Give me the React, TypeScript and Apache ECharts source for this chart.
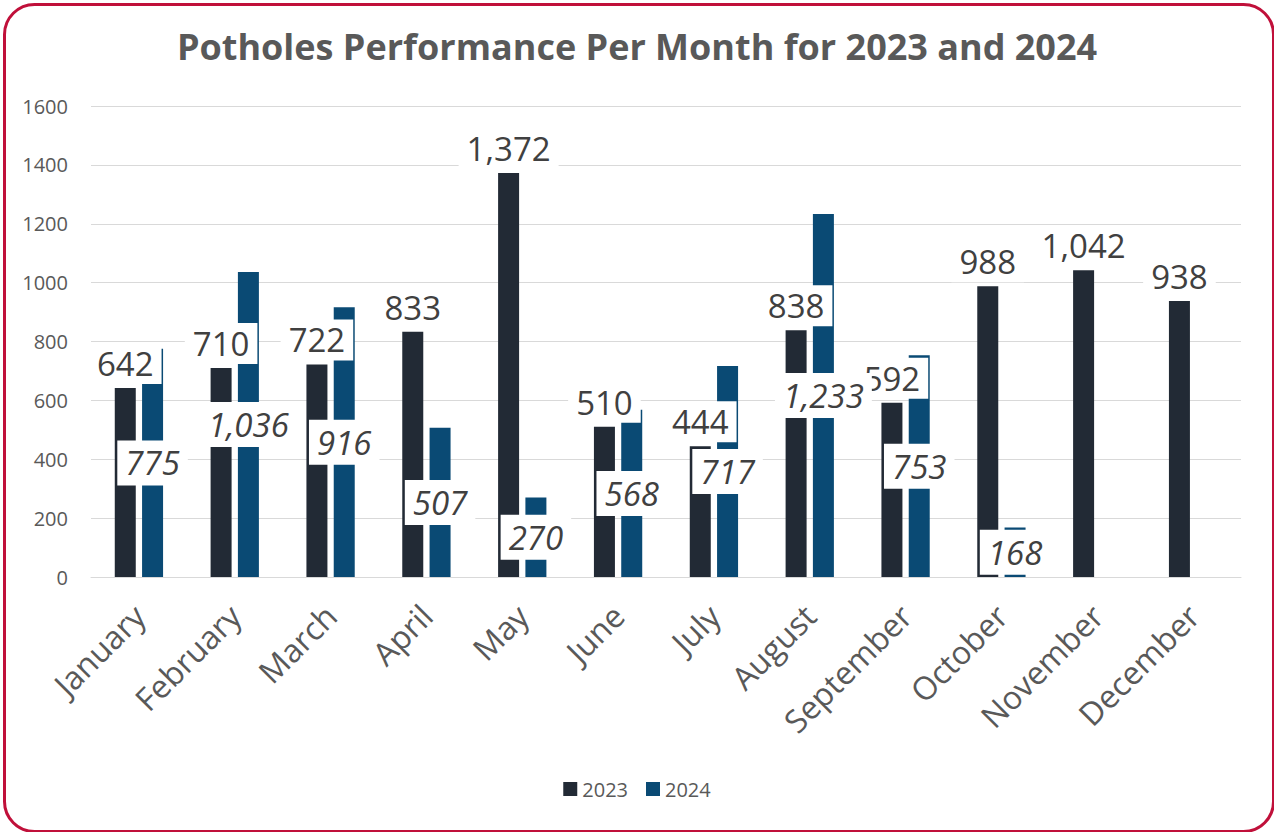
import React, { useEffect, useRef } from "react";
import * as echarts from "echarts";

const months = ["January", "February", "March", "April", "May", "June", "July", "August", "September", "October", "November", "December"];
const values2023 = [642, 710, 722, 833, 1372, 510, 444, 838, 592, 988, 1042, 938];
const values2024: (number | null)[] = [775, 1036, 916, 507, 270, 568, 717, 1233, 753, 168, null, null];
const titleText = "Potholes Performance Per Month for 2023 and 2024";
const FONT = "'Open Sans', 'Noto Sans', sans-serif";

export default function App() {
  const ref = useRef<HTMLDivElement>(null);
  useEffect(() => {
    if (!ref.current) return;
    const chart = echarts.init(ref.current, null, { renderer: "svg" });
    const fmt = (p: any) => (p.value == null ? "" : Number(p.value).toLocaleString("en-US"));
    chart.setOption({
      animation: false,
      backgroundColor: "#ffffff",
      textStyle: { fontFamily: FONT },
      title: {
        text: titleText,
        left: "center",
        top: 23,
        textStyle: { fontFamily: FONT, fontSize: 36, fontWeight: "bold", color: "#595959" },
      },
      legend: {
        bottom: 28,
        left: "center",
        itemWidth: 14,
        itemHeight: 14,
        itemGap: 18,
        icon: "rect",
        textStyle: { fontFamily: FONT, fontSize: 20, color: "#595959" },
        data: ["2023", "2024"],
      },
      grid: { left: 91, right: 33, top: 106, bottom: 255, containLabel: false },
      xAxis: {
        type: "category",
        data: months,
        axisLine: { lineStyle: { color: "#d9d9d9", width: 1 } },
        axisTick: { show: false },
        axisLabel: { rotate: 45, fontFamily: FONT, fontSize: 32, color: "#595959", margin: 33, interval: 0 },
      },
      yAxis: {
        type: "value",
        min: 0,
        max: 1600,
        interval: 200,
        axisLine: { show: false },
        axisTick: { show: false },
        splitLine: { lineStyle: { color: "#d9d9d9", width: 1 } },
        axisLabel: { fontFamily: FONT, fontSize: 20, color: "#595959", margin: 23, formatter: (v: number) => String(v) },
      },
      series: [
        {
          name: "2023",
          type: "bar",
          data: values2023,
          barWidth: 21,
          barGap: "30%",
          itemStyle: { color: "#222a35" },
          label: {
            show: true,
            position: "top",
            distance: 4,
            formatter: fmt,
            fontFamily: FONT,
            fontSize: 33,
            color: "#404040",
            backgroundColor: "#ffffff",
            padding: [4, 8],
          },
        },
        {
          name: "2024",
          type: "bar",
          data: values2024,
          barWidth: 21,
          itemStyle: { color: "#0a4a74" },
          label: {
            show: true,
            position: "inside",
            formatter: fmt,
            fontFamily: FONT,
            fontSize: 33,
            fontStyle: "italic",
            color: "#404040",
            backgroundColor: "#ffffff",
            padding: [6, 8],
          },
        },
      ],
      graphic: [
        {
          type: "rect",
          left: 2,
          top: 2,
          shape: { width: 1269, height: 827, r: 30 },
          style: { fill: "none", stroke: "#c0103a", lineWidth: 3 },
          z: 100,
          silent: true,
        },
      ],
    });
    return () => chart.dispose();
  }, []);
  return <div ref={ref} style={{ position: "fixed", left: 0, top: 0, width: 1274, height: 832 }} />;
}
